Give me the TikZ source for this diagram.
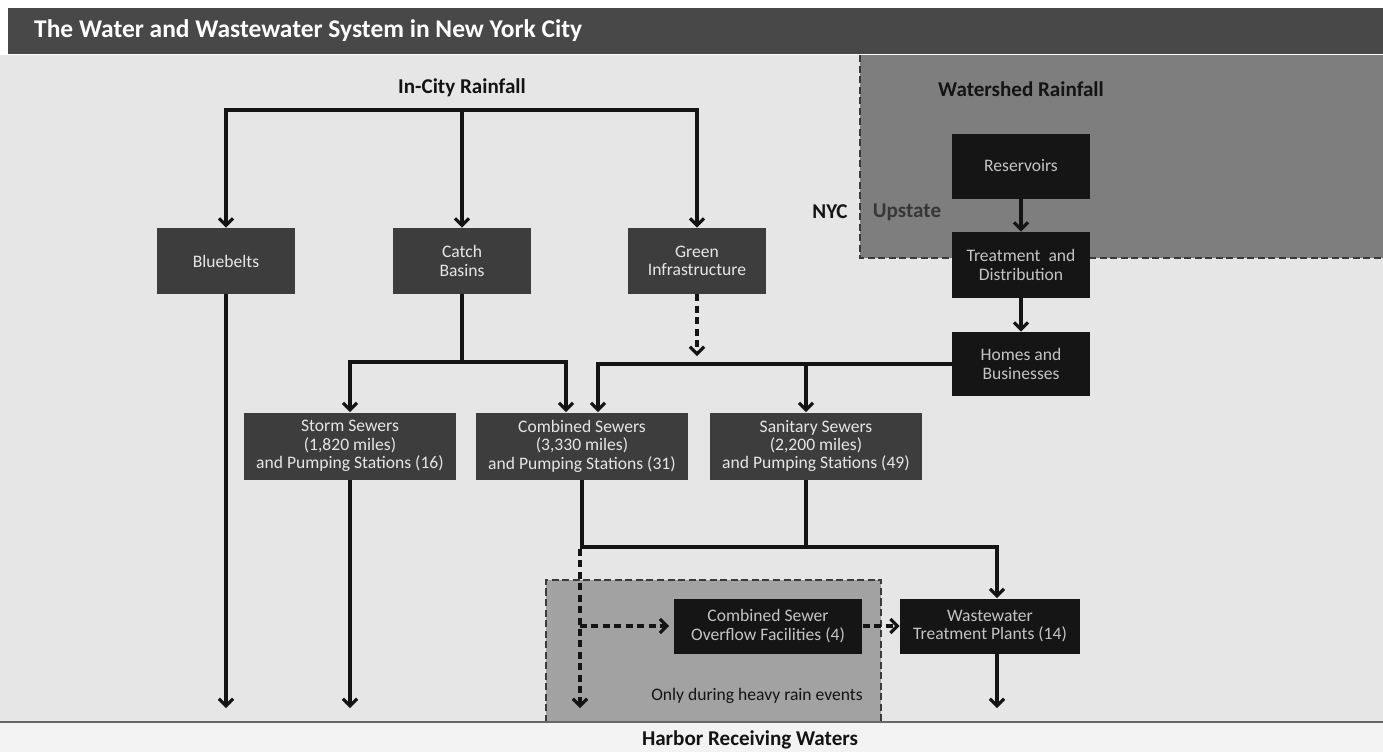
\documentclass[tikz,border=0pt]{standalone}
\usepackage{fontspec}
\setmainfont{Carlito}
\setsansfont{Carlito}
\usetikzlibrary{arrows.meta, calc}
\definecolor{ink}{HTML}{141414}
\definecolor{barcol}{HTML}{484848}
\definecolor{bgcol}{HTML}{E6E6E6}
\definecolor{lowcol}{HTML}{F3F3F3}
\definecolor{upcol}{HTML}{7E7E7E}
\definecolor{raincol}{HTML}{A2A2A2}
\definecolor{boxcol}{HTML}{3D3D3D}
\definecolor{blkcol}{HTML}{151515}
\definecolor{boxtext}{HTML}{E6E6E6}
\definecolor{blktext}{HTML}{C4C4C4}
\definecolor{zoneline}{HTML}{3A3A3A}

\begin{document}
\begin{tikzpicture}[
    x=0.02cm, y=-0.02cm,
    every node/.style={font=\sffamily},
    arr/.style={-{Straight Barb[length=4pt, width=8pt]}, line width=1.8pt, color=ink},
    wire/.style={line width=1.8pt, color=ink},
    darr/.style={arr, dash pattern=on 4pt off 2.5pt},
    gbox/.style={rectangle, fill=boxcol, text=boxtext, align=center, inner sep=0pt,
        font=\sffamily\fontsize{10}{10.5}\selectfont},
    kbox/.style={gbox, fill=blkcol, text=blktext},
    small/.style={minimum width=2.78cm, minimum height=1.32cm},
    wide/.style={minimum width=4.24cm, minimum height=1.34cm},
    head/.style={font=\sffamily\bfseries\fontsize{12}{14}\selectfont, text=ink},
    zone/.style={zoneline, line width=0.9pt, dash pattern=on 4pt off 2pt},
]
\useasboundingbox (0,0) rectangle (1383,752);

% ============================================================ backgrounds
\fill[white] (0,0) rectangle (1383,752);
\fill[bgcol] (0,55) rectangle (1383,722);
\fill[lowcol] (0,722) rectangle (1383,752);
\fill[barcol] (8,8) rectangle (1383,54);
\node[anchor=west, text=white, font=\sffamily\bfseries\fontsize{14.5}{16}\selectfont]
    (title) at (28,31) {The Water and Wastewater System in New York City};

% upstate and the heavy rain zone
\fill[upcol] (860,55) rectangle (1383,258);
\draw[zone] (860,55) -- (860,258) -- (1383,258);
\fill[raincol] (546,580) rectangle (881,722);
\draw[zone] (546,722) -- (546,580) -- (881,580) -- (881,722);
\draw[gray!80!black, line width=0.9pt] (0,722) -- (1383,722);

% ============================================================ labels
\node[head] (rain) at (462,88) {In-City Rainfall};
\node[head] (shed) at (1021,89) {Watershed Rainfall};
\node[head, text=ink!85] (upstate) at (907,212) {Upstate};
\node[head] (nyc) at (830,212) {NYC};
\node[font=\sffamily\fontsize{10}{12}\selectfont, text=ink] (heavy) at (757,696)
    {Only during heavy rain events};
\node[head] (harbor) at (750,740) {Harbor Receiving Waters};

% ============================================================ boxes
\node[gbox, small] (blue) at (226,261) {Bluebelts};
\node[gbox, small] (catch) at (462,261) {Catch\\ Basins};
\node[gbox, small] (green) at (697,261) {Green\\ Infrastructure};

\node[gbox, wide] (storm) at (350,446) {Storm Sewers\\ (1,820 miles)\\ and Pumping Stations (16)};
\node[gbox, wide] (comb) at (582,446) {Combined Sewers\\ (3,330 miles)\\ and Pumping Stations (31)};
\node[gbox, wide] (san) at (816,446) {Sanitary Sewers\\ (2,200 miles)\\ and Pumping Stations (49)};

\node[kbox, minimum width=2.76cm, minimum height=1.3cm] (res) at (1021,166) {Reservoirs};
\node[kbox, minimum width=2.76cm, minimum height=1.32cm] (treat) at (1021,265) {Treatment\ \ and\\ Distribution};
\node[kbox, minimum width=2.76cm, minimum height=1.28cm] (homes) at (1021,364) {Homes and\\ Businesses};

\node[kbox, minimum width=3.78cm, minimum height=1.1cm] (cso) at (768,626) {Combined Sewer\\ Overflow Facilities (4)};
\node[kbox, minimum width=3.6cm, minimum height=1.1cm] (wtp) at (990,626) {Wastewater\\ Treatment Plants (14)};

% ============================================================ connectors
\coordinate (rsplit) at (462,110);
\coordinate (csplit) at (462,362);
\coordinate (ssplit) at (806,547);
\coordinate (outfall) at (0,708);
\coordinate (combl) at ($(comb.north)+(-16,0)$);
\coordinate (combr) at ($(comb.north)+(16,0)$);
\coordinate (sanin) at ($(san.north)+(-10,0)$);
\coordinate (sanout) at ($(san.south)+(-10,0)$);
\coordinate (wtpin) at ($(wtp.north)+(7,0)$);
\coordinate (wtpout) at ($(wtp.south)+(7,0)$);

% rainfall into the three
\draw[arr] (rsplit) -| (blue.north);
\draw[arr] (rsplit) -| (green.north);
\draw[arr] (rsplit) -- (catch.north);

% catch basins split
\draw[wire] (catch.south) -- (csplit);
\draw[arr] (csplit) -| (storm.north);
\draw[arr] (csplit) -| (combl);
\draw[darr] (green.south) -- ($(green.south |- homes.west)+(0,-8)$);

% upstate chain
\draw[arr] (res) -- (treat);
\draw[arr] (treat) -- (homes);
\draw[arr] (homes.west) -| (combr);
\draw[arr] (homes.west -| sanin) -- (sanin);

% to the harbor
\draw[arr] (blue.south) -- (blue.south |- outfall);
\draw[arr] (storm.south) -- (storm.south |- outfall);
\draw[arr] (wtpout) -- (wtpout |- outfall);

% sewers to the plants
\draw[wire] (sanout) -- (ssplit);
\draw[arr] (comb.south) |- (ssplit) -| (wtpin);
\draw[darr] ($(comb.south |- ssplit)+(-2,2)$) -- ($(comb.south |- outfall)+(-2,0)$);
\draw[darr] ($(comb.south |- cso.west)+(-2,0)$) -- ($(cso.west)+(-4,0)$);
\draw[darr] (cso.east) -- (wtp.west);

\end{tikzpicture}
\end{document}
